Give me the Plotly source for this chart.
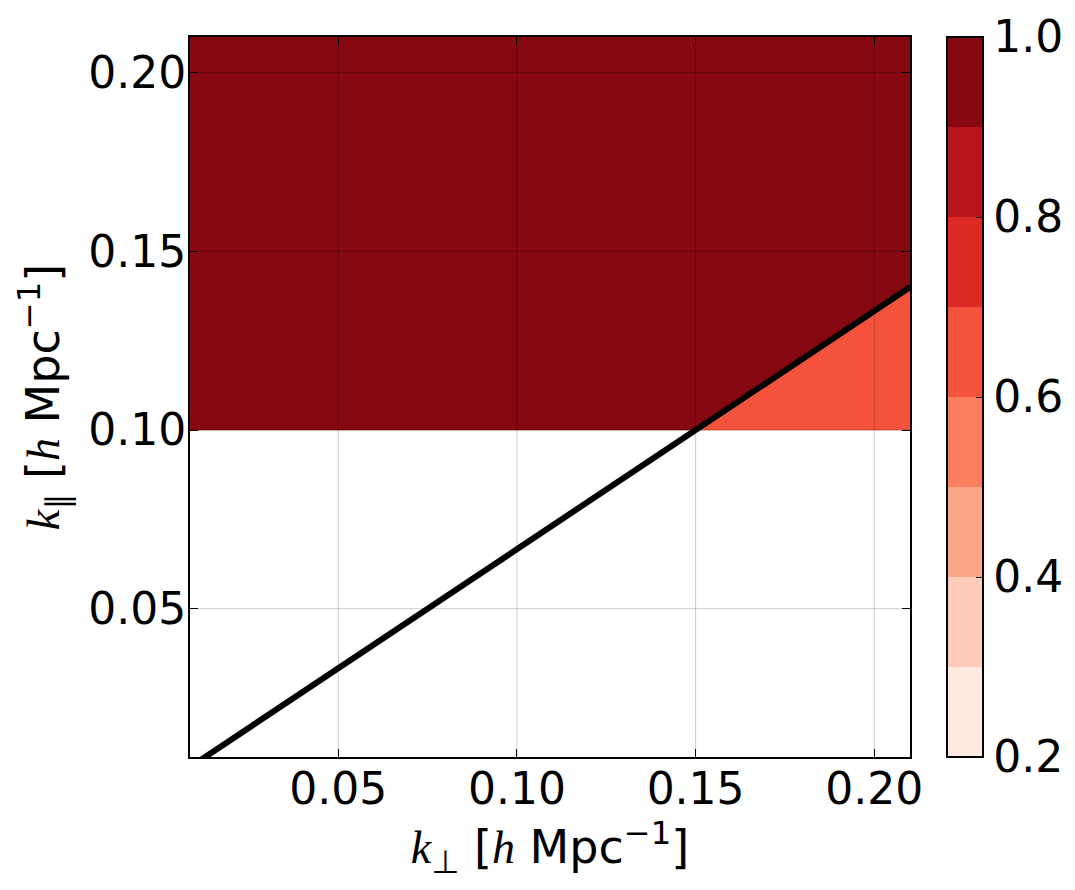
import plotly.graph_objects as go

# ---------------- data ----------------
# contour levels of the filled map and their (matplotlib "Reds") band colours
levels = [0.2, 0.3, 0.4, 0.5, 0.6, 0.7, 0.8, 0.9, 1.0]
band_colors = ["#FEEAE1", "#FDCDB9", "#FCA689", "#FB7E5E",
               "#F5523B", "#DD2A24", "#B81419", "#860811"]

# axis limits (h/Mpc)
k_perp_range = [0.0085, 0.21]
k_par_range = [0.0085, 0.21]
tick_vals = [0.05, 0.10, 0.15, 0.20]
cbar_ticks = [0.2, 0.4, 0.6, 0.8, 1.0]

# filled regions: polygon vertices (k_perp, k_par) and the value of the region
region_hi_kperp = [0.0085, 0.15, 0.21, 0.21, 0.0085]
region_hi_kpar = [0.10, 0.10, 0.14, 0.21, 0.21]
region_hi_value = 0.95

region_wedge_kperp = [0.15, 0.21, 0.21]
region_wedge_kpar = [0.10, 0.10, 0.14]
region_wedge_value = 0.65

# horizon (wedge) line
horizon_kperp = [0.0, 0.15, 0.21]
horizon_kpar = [0.0, 0.10, 0.14]


def color_for(v):
    for i in range(len(levels) - 1):
        if levels[i] <= v < levels[i + 1]:
            return band_colors[i]
    return band_colors[-1]


# discrete colour scale
n = len(band_colors)
colorscale = []
for i, c in enumerate(band_colors):
    colorscale.append([i / n, c])
    colorscale.append([(i + 1) / n, c])

fig = go.Figure()

for xs, ys, val in [(region_hi_kperp, region_hi_kpar, region_hi_value),
                    (region_wedge_kperp, region_wedge_kpar, region_wedge_value)]:
    col = color_for(val)
    fig.add_trace(go.Scatter(x=xs, y=ys, fill="toself", fillcolor=col,
                             mode="lines", line=dict(color=col, width=0.5),
                             hoverinfo="skip", showlegend=False))

# grid lines drawn over the filled map
gx, gy = [], []
for t in tick_vals:
    gx += [t, t, None]
    gy += [k_par_range[0], k_par_range[1], None]
    gx += [k_perp_range[0], k_perp_range[1], None]
    gy += [t, t, None]
fig.add_trace(go.Scatter(x=gx, y=gy, mode="lines",
                         line=dict(color="rgba(0,0,0,0.2)", width=1),
                         hoverinfo="skip", showlegend=False))

# horizon line
fig.add_trace(go.Scatter(x=horizon_kperp, y=horizon_kpar, mode="lines",
                         line=dict(color="black", width=6),
                         hoverinfo="skip", showlegend=False))

# colour bar carrier
fig.add_trace(go.Scatter(
    x=[0.1, 0.1], y=[0.1, 0.1], mode="markers",
    marker=dict(size=0.0001, opacity=0, color=[levels[0], levels[-1]],
                colorscale=colorscale, cmin=levels[0], cmax=levels[-1],
                showscale=True,
                colorbar=dict(
                    thickness=36, thicknessmode="pixels",
                    len=1, lenmode="fraction",
                    x=1.0514, xanchor="left", xpad=0,
                    y=0.5, yanchor="middle", ypad=0,
                    outlinewidth=2, outlinecolor="black",
                    tickvals=cbar_ticks,
                    ticktext=[f"{v:.1f}" for v in cbar_ticks],
                    ticks="inside", ticklen=8, tickwidth=1, tickcolor="black",
                    tickfont=dict(family="DejaVu Sans", size=44, color="black"),
                )),
    hoverinfo="skip", showlegend=False))

serif = 'style="font-family:Liberation Serif"'
xtitle = (f'<span {serif}><i>k</i></span><sub>⊥</sub> '
          f'[<span {serif}><i>h</i></span> Mpc<sup>−1</sup>]')
ytitle = (f'<span {serif}><i>k</i></span><sub>∥</sub> '
          f'[<span {serif}><i>h</i></span> Mpc<sup>−1</sup>]')

axis_common = dict(
    showline=True, linecolor="black", linewidth=2, mirror="ticks",
    ticks="inside", ticklen=8, tickwidth=1, tickcolor="black",
    showgrid=False, zeroline=False,
    tickvals=tick_vals, tickformat=".2f",
    tickfont=dict(family="DejaVu Sans", size=44, color="black"),
)

fig.update_layout(
    width=1075, height=890,
    margin=dict(l=190, r=165, t=37, b=133, autoexpand=False),
    paper_bgcolor="white", plot_bgcolor="white",
    font=dict(family="DejaVu Sans", color="black"),
    xaxis=dict(range=k_perp_range, ticklabelstandoff=-8,
               title=dict(text=xtitle, font=dict(family="DejaVu Sans", size=46),
                          standoff=14),
               **axis_common),
    yaxis=dict(range=k_par_range, ticklabelstandoff=-7,
               title=dict(text=ytitle, font=dict(family="DejaVu Sans", size=46),
                          standoff=14),
               **axis_common),
)

fig.write_html("out.html")
